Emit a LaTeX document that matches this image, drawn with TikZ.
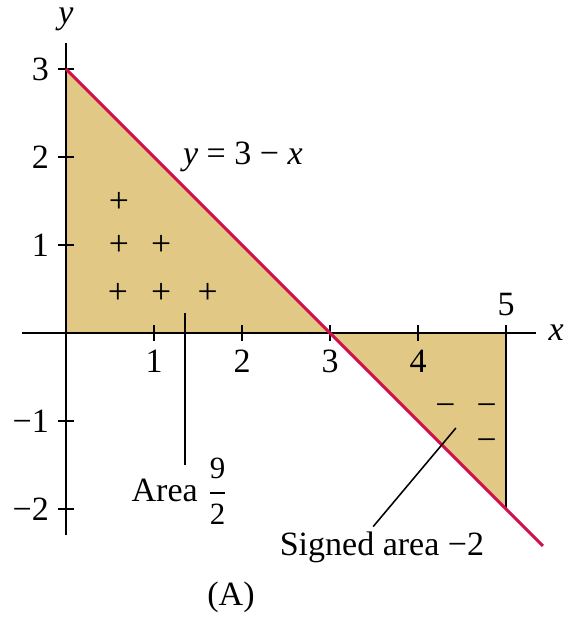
\documentclass[tikz,border=0pt]{standalone}
\usepackage{fontspec}
\setmainfont{Liberation Serif}
\begin{document}
\begin{tikzpicture}[x=1cm,y=1cm,
  lbl/.style={font=\fontsize{11}{13}\selectfont, inner sep=1pt},
  sgn/.style={font=\fontsize{11.5}{12}\selectfont, inner sep=0pt},
  axis/.style={line width=0.6pt, black},
  tick/.style={line width=0.6pt, black},
  leader/.style={line width=0.5pt, black}]
\definecolor{tanfill}{RGB}{225,200,132}
\definecolor{curvered}{RGB}{208,16,76}
\useasboundingbox (-0.75,-3.261) rectangle (5.693,3.784);
% shaded regions
\fill[tanfill] (0,0) -- (0,3) -- (3,0) -- cycle;
\fill[tanfill] (3,0) -- (5,0) -- (5,-2) -- cycle;
% axes
\draw[axis] (-0.5,0) -- (5.34,0);
\draw[axis] (0,-2.3) -- (0,3.3);
\draw[axis] (5,0) -- (5,-2);
% ticks
\foreach \i in {1,2,3,4,5} \draw[tick] (\i,-0.09) -- (\i,0.09);
\foreach \j in {-2,-1,1,2,3} \draw[tick] (-0.09,\j) -- (0.09,\j);
% line
\coordinate (ltop) at (0,3);
\coordinate (lend) at (5.42,-2.42);
\draw[curvered, line width=1pt] (ltop) -- (lend);
% axis labels
\node[lbl] (ylab) at (0,3.56) {\textit{y}};
\node[lbl] (xlab) at (5.57,0) {\textit{x}};
\node[lbl] (y3) at (-0.29,3) {3};
\node[lbl] (y2) at (-0.29,2) {2};
\node[lbl] (y1) at (-0.29,1) {1};
\node[lbl] (ym1) at (-0.4,-1) {−1};
\node[lbl] (ym2) at (-0.4,-2) {−2};
\node[lbl] (x1) at (1,-0.32) {1};
\node[lbl] (x2) at (2,-0.32) {2};
\node[lbl] (x3) at (3,-0.32) {3};
\node[lbl] (x4) at (4,-0.32) {4};
\node[lbl] (x5) at (5,0.32) {5};
\node[lbl] (eq) at (2.01,2.0) {\textit{y} = 3 − \textit{x}};
% plus signs
\node[sgn] (p1) at (0.6,1.48) {+};
\node[sgn] (p2) at (0.6,1.0) {+};
\node[sgn] (p3) at (1.08,1.0) {+};
\node[sgn] (p4) at (0.59,0.45) {+};
\node[sgn] (p5) at (1.08,0.45) {+};
\node[sgn] (p6) at (1.61,0.45) {+};
% minus signs
\node[sgn] (m1) at (4.31,-0.875) {−};
\node[sgn] (m2) at (4.78,-0.875) {−};
\node[sgn] (m3) at (4.78,-1.27) {−};
% leaders and labels
\coordinate (a1) at (1.35,0.23);
\node[lbl] (area) at (1.3,-1.8) {Area $\displaystyle\frac{\mbox{\fontsize{10}{10}\selectfont 9}}{\mbox{\fontsize{10}{10}\selectfont 2}}$};
\draw[leader] (a1) -- (1.35,-1.5);
\coordinate (s1) at (4.43,-1.08);
\node[lbl] (signed) at (3.59,-2.44) {Signed area −2};
\draw[leader] (s1) -- (3.49,-2.2);
\node[lbl] (cap) at (1.875,-3.0) {(A)};
\end{tikzpicture}
\end{document}
